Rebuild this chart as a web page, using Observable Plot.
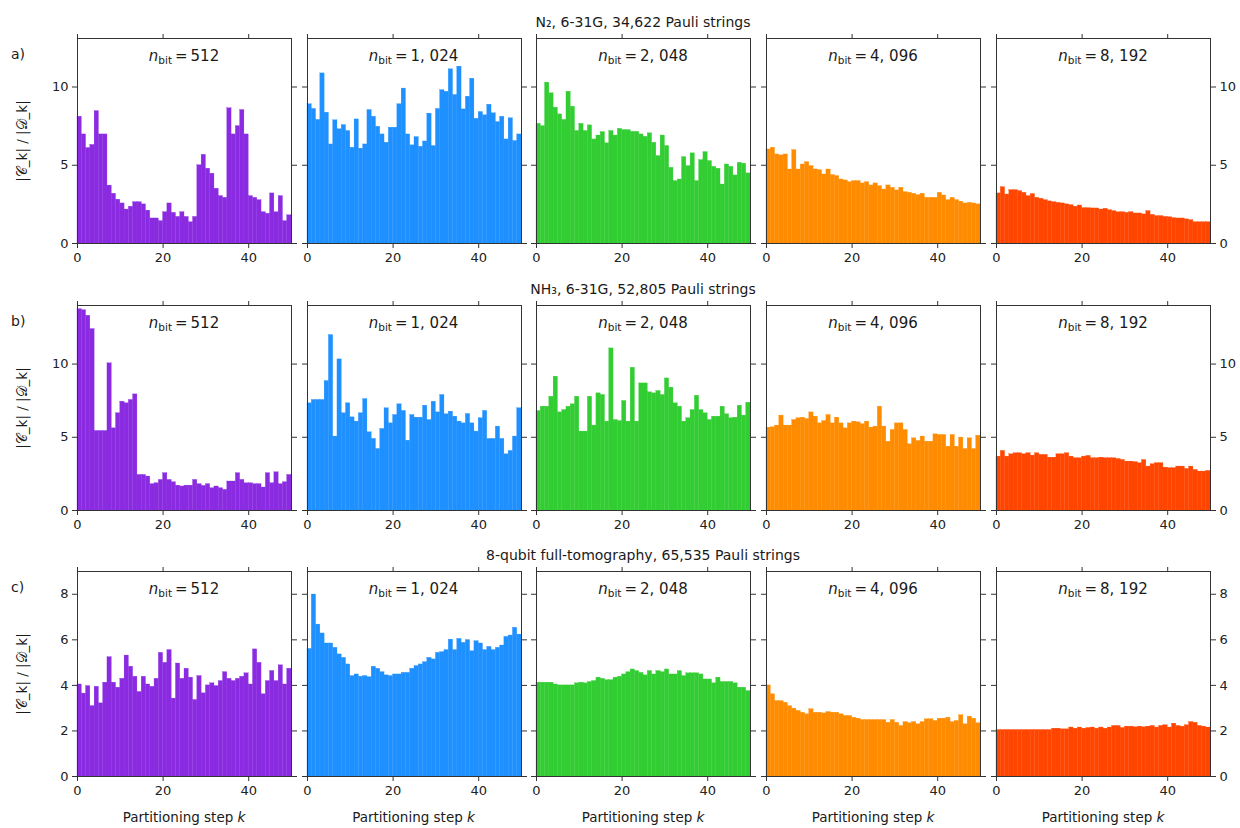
<!DOCTYPE html>
<html><head><meta charset="utf-8">
<script src="https://cdn.jsdelivr.net/npm/d3@7"></script>
<script src="https://cdn.jsdelivr.net/npm/@observablehq/plot@0.6"></script>
<style>
body{margin:0;background:#fff;font-family:"DejaVu Sans",sans-serif;}
#fig{position:relative;width:1240px;height:828px;overflow:hidden;background:#fff;}
.abs{position:absolute;white-space:nowrap;color:#1a1a1a;line-height:1;}
.nb{font-size:15px;transform:translateX(-50%);}
.nb i{font-family:"DejaVu Sans";font-style:italic;}
.nb sub{font-size:10.5px;vertical-align:-3px;}
</style></head><body><div id="fig"></div>
<script>
// ---- data ----
const steps = d3.range(50);
const nbitLabels = ["512", "1, 024", "2, 048", "4, 096", "8, 192"];
const colors = ["#8A2BE2", "#1E90FF", "#32CD32", "#FF8C00", "#FF4500"];
const rowTitles = ["N\u2082, 6-31G, 34,622 Pauli strings", "NH\u2083, 6-31G, 52,805 Pauli strings", "8-qubit full-tomography, 65,535 Pauli strings"];
const rowTags = ["a)", "b)", "c)"];
const yMax = [13.1, 14.0, 9.0];
const yTicks = [[0, 5, 10], [0, 5, 10], [0, 2, 4, 6, 8]];
const xTicks = [0, 20, 40];

const n2_512 = [8.1,6.97,6.1,6.3,8.46,6.97,6.97,3.7,3.18,2.8,2.56,2.17,2.35,2.64,2.64,2.5,2.1,1.6,1.6,1.43,2.0,2.56,1.96,1.7,2.0,1.7,1.36,1.7,5.0,5.67,4.78,4.46,3.5,3.03,2.92,8.64,6.97,7.5,8.53,6.97,3.03,2.92,2.77,2.0,1.9,3.2,2.0,3.03,1.43,1.8];
const n2_1024 = [8.9,8.6,7.9,10.87,8.36,6.33,7.87,7.3,7.57,7.19,6.12,7.93,6.06,6.33,8.53,8.1,7.46,6.97,6.44,7.4,7.4,8.9,9.9,6.97,6.27,6.8,6.18,6.52,8.3,6.23,8.6,9.8,9.7,11.13,9.49,11.3,8.57,9.38,10.53,7.97,8.4,8.19,8.87,8.32,7.76,8.1,6.65,8.0,6.55,6.97];
const n2_2048 = [7.65,7.5,10.28,9.6,8.68,8.25,7.9,9.7,8.74,7.19,7.65,7.19,7.55,6.65,6.9,7.12,6.4,7.19,6.9,7.33,7.25,7.25,7.14,7.14,6.97,6.82,7.04,6.44,5.59,6.9,6.23,4.84,3.99,4.09,5.52,4.95,5.76,3.99,5.33,5.84,5.27,4.9,4.78,3.77,5.05,4.9,4.35,5.16,5.1,4.48];
const n2_4096 = [6.01,6.12,5.69,5.63,5.69,4.73,5.97,4.73,5.05,5.2,4.95,4.73,4.69,4.41,4.73,4.37,4.31,4.09,4.03,3.92,3.99,3.99,3.84,3.92,3.71,3.84,3.67,3.45,3.71,3.56,3.39,3.56,3.28,3.24,3.18,3.09,3.18,2.92,2.92,2.92,3.24,3.07,2.77,2.92,2.77,2.67,2.56,2.6,2.56,2.5];
const n2_8192 = [3.2,3.6,3.13,3.41,3.41,3.35,3.24,3.03,3.16,2.92,2.86,2.77,2.69,2.64,2.6,2.56,2.5,2.45,2.35,2.43,2.26,2.26,2.24,2.24,2.17,2.22,2.13,2.07,2.0,2.0,1.96,2.0,1.92,1.92,1.86,2.07,1.83,1.75,1.75,1.7,1.68,1.62,1.6,1.6,1.54,1.49,1.36,1.36,1.36,1.36];

const nh3_512 = [13.75,13.68,13.3,12.39,5.43,5.43,5.43,10.05,5.61,6.64,7.43,7.32,7.55,7.93,2.43,2.43,2.32,1.8,1.86,2.09,2.55,2.09,1.93,1.7,1.64,1.7,1.7,2.09,1.8,1.68,1.8,1.52,1.64,1.52,1.41,1.98,1.98,2.55,2.09,1.86,1.86,1.8,1.8,1.57,2.55,1.86,2.61,1.8,1.93,2.43];
const nh3_1024 = [7.32,7.55,7.55,7.55,8.84,11.98,5.05,10.32,6.64,7.32,6.36,6.07,6.64,7.61,5.34,4.89,4.2,5.57,6.98,5.95,6.52,7.25,6.8,4.77,6.52,6.34,6.34,7.16,6.18,7.43,6.7,7.89,6.57,6.75,6.41,6.07,5.95,6.59,5.95,5.39,6.3,6.8,4.89,4.89,5.73,4.89,3.84,4.07,5.05,6.98];
const nh3_2048 = [6.8,7.09,7.09,7.77,9.14,6.7,6.86,7.09,7.25,7.77,5.39,5.39,7.77,5.8,8.0,7.89,6.07,11.07,6.18,6.11,7.48,6.07,9.75,6.07,8.68,8.68,8.07,8.0,8.16,7.89,9.02,8.39,7.32,7.09,6.07,6.3,6.86,7.84,6.86,6.64,6.18,6.41,6.41,7.09,6.57,6.3,6.34,7.16,6.48,7.36];
const nh3_4096 = [5.66,5.68,5.8,6.48,5.8,5.8,6.18,6.3,6.34,6.25,6.7,6.41,5.95,6.11,6.52,5.95,6.34,5.95,5.61,5.95,6.07,6.02,5.89,6.07,5.66,5.73,7.09,5.73,4.7,5.5,5.95,5.95,5.5,4.52,4.93,4.75,5.05,4.7,4.7,5.2,5.16,5.16,4.36,5.16,4.36,4.98,4.2,4.93,4.2,5.11];
const nh3_8192 = [3.68,4.07,3.68,3.84,3.91,3.91,3.84,3.91,3.75,3.91,3.8,3.8,3.61,3.61,3.84,3.84,3.91,3.68,3.57,3.57,3.68,3.73,3.57,3.57,3.61,3.57,3.57,3.57,3.52,3.45,3.34,3.34,3.3,3.23,3.45,3.0,3.16,3.23,3.23,2.93,2.89,2.89,3.0,3.0,2.84,3.0,2.77,2.66,2.66,2.7];

const tomo_512 = [4.04,3.64,3.97,3.09,3.94,3.21,4.12,5.24,4.12,3.9,4.29,5.31,4.82,4.38,3.71,4.38,4.04,3.94,4.29,5.43,4.99,5.55,3.42,4.96,4.29,4.73,4.34,3.36,4.41,3.65,4.0,4.09,3.97,4.19,4.58,4.29,4.19,4.29,4.38,4.53,4.04,5.58,4.99,3.61,4.19,4.63,4.19,4.88,4.04,4.73];
const tomo_1024 = [5.6,7.99,6.67,6.28,5.84,5.84,5.65,5.36,5.21,4.92,4.41,4.48,4.38,4.41,4.36,4.82,4.73,4.58,4.44,4.41,4.48,4.48,4.55,4.55,4.73,4.85,4.92,5.02,5.21,5.14,5.43,5.46,5.55,6.01,5.55,6.04,5.87,5.99,5.5,5.94,5.84,5.55,5.69,5.55,5.65,5.75,6.13,6.19,6.53,6.23];
const tomo_2048 = [4.12,4.12,4.12,4.12,4.04,4.0,4.0,4.0,4.0,4.09,4.12,4.09,4.15,4.19,4.34,4.29,4.23,4.23,4.34,4.38,4.48,4.58,4.7,4.63,4.55,4.44,4.63,4.48,4.63,4.58,4.7,4.48,4.48,4.63,4.41,4.53,4.53,4.53,4.48,4.26,4.26,4.09,4.34,4.15,4.15,4.15,4.09,3.9,3.9,3.75];
const tomo_4096 = [4.0,3.61,3.31,3.31,3.24,3.09,2.98,2.88,2.8,2.73,2.95,2.8,2.8,2.77,2.83,2.8,2.8,2.73,2.66,2.66,2.58,2.54,2.48,2.48,2.48,2.48,2.48,2.48,2.36,2.48,2.36,2.22,2.39,2.34,2.39,2.29,2.39,2.51,2.51,2.44,2.54,2.54,2.58,2.39,2.44,2.69,2.29,2.63,2.54,2.34];
const tomo_8192 = [2.04,2.04,2.04,2.04,2.04,2.04,2.04,2.04,2.04,2.04,2.04,2.04,2.04,2.1,2.1,2.07,2.07,2.15,2.1,2.15,2.1,2.13,2.15,2.1,2.15,2.1,2.15,2.22,2.22,2.13,2.19,2.19,2.16,2.19,2.16,2.19,2.22,2.15,2.22,2.25,2.15,2.32,2.22,2.19,2.25,2.39,2.36,2.22,2.19,2.15];

const grid = [
  [n2_512, n2_1024, n2_2048, n2_4096, n2_8192],
  [nh3_512, nh3_1024, nh3_2048, nh3_4096, nh3_8192],
  [tomo_512, tomo_1024, tomo_2048, tomo_4096, tomo_8192]
];

// ---- layout ----
const fig = document.getElementById("fig");
const colX = [77, 306.5, 536, 766, 996];
const rowY = [38, 305, 571];
const W = 214, H = 205;
const mL = 40, mR = 40, mT = 20, mB = 30;

function addText(html, left, top, cls, extra) {
  const d = document.createElement("div");
  d.className = "abs " + (cls || "");
  d.innerHTML = html;
  d.style.left = left + "px";
  d.style.top = top + "px";
  if (extra) Object.assign(d.style, extra);
  fig.appendChild(d);
  return d;
}

grid.forEach((row, r) => {
  row.forEach((vals, c) => {
    const data = steps.map(k => ({k, k2: k + 1, v: vals[k]}));
    const svg = Plot.plot({
      width: W + mL + mR, height: H + mT + mB,
      marginLeft: mL, marginRight: mR, marginTop: mT, marginBottom: mB,
      style: {background: "transparent", fontFamily: "DejaVu Sans, sans-serif", fontSize: "13px", color: "#222", overflow: "visible"},
      x: {domain: [0, 50]},
      y: {domain: [0, yMax[r]]},
      marks: [
        Plot.rectY(data, {x1: "k", x2: "k2", y: "v", fill: colors[c], stroke: colors[c], strokeWidth: 0.3}),
        Plot.frame({stroke: "#333", strokeWidth: 1}),
        Plot.axisX({anchor: "bottom", ticks: xTicks, tickSize: 5, tickPadding: 4, label: null, stroke: "#333"}),
        Plot.axisX({anchor: "top", ticks: xTicks, tickSize: 5, tickFormat: () => "", label: null, stroke: "#333"}),
        Plot.axisY({anchor: "left", ticks: yTicks[r], tickSize: 5, tickPadding: 4, tickFormat: c === 0 ? (d => String(d)) : () => "", label: null, stroke: "#333"}),
        Plot.axisY({anchor: "right", ticks: yTicks[r], tickSize: 5, tickPadding: 4, tickFormat: c === 4 ? (d => String(d)) : () => "", label: null, stroke: "#333"})
      ]
    });
    svg.style.position = "absolute";
    svg.style.left = (colX[c] - mL) + "px";
    svg.style.top = (rowY[r] - mT) + "px";
    fig.appendChild(svg);
    // n_bit panel label
    addText('<i>n</i><sub>bit</sub>\u2009=\u2009' + nbitLabels[c], colX[c] + W / 2, rowY[r] + 11, "nb");
    if (r === 2) {
      addText('Partitioning step <i>k</i>', colX[c] + W / 2, rowY[r] + H + 35, "", {fontSize: "13.5px", transform: "translateX(-50%)"});
    }
  });
  // row title
  addText(rowTitles[r], 643, rowY[r] - 23, "", {fontSize: "14px", transform: "translateX(-50%)"});
  addText(rowTags[r], 11, rowY[r] + 9, "", {fontSize: "14px"});
  // y label
  addText('|\uD835\uDC9E_k| / |\uD835\uDC9F_k|', 23, rowY[r] + H / 2, "", {fontSize: "13.5px", transform: "translate(-50%,-50%) rotate(-90deg)"});
});
</script></body></html>
